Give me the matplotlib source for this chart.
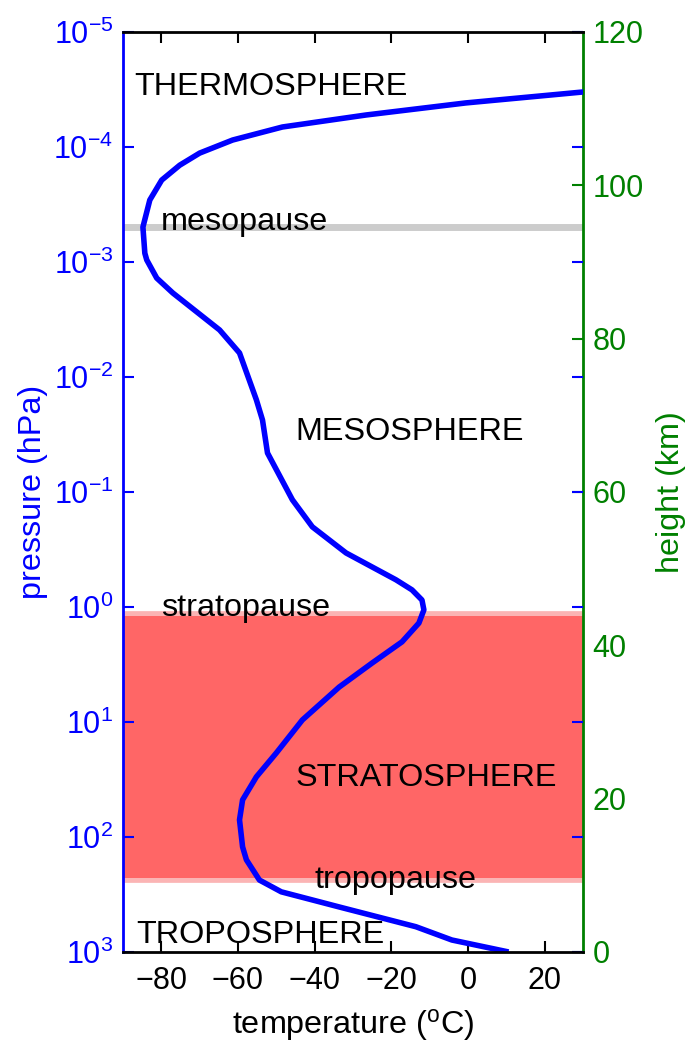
import matplotlib
matplotlib.use("Agg")
import matplotlib.pyplot as plt
from matplotlib.ticker import FixedLocator, NullLocator

plt.rcParams["font.family"] = ["Liberation Sans", "DejaVu Sans"]
plt.rcParams["mathtext.fontset"] = "custom"
plt.rcParams["mathtext.rm"] = "Liberation Sans"
plt.rcParams["mathtext.it"] = "Liberation Sans:italic"
plt.rcParams["mathtext.bf"] = "Liberation Sans:bold"

# temperature profile (pressure in hPa, temperature in degC)
pressure = [1000, 787, 603, 406, 300, 237, 158, 122, 71, 47.6, 30, 18.6, 9.6,
            4.97, 3.07, 2.01, 1.38, 1.06, 0.87, 0.71, 0.58, 0.339, 0.201, 0.117,
            0.0458, 0.0237, 0.0158, 0.00618, 0.0039, 0.00186, 0.00138, 0.00096,
            0.000839, 0.000497, 0.000289, 0.000194, 0.000144, 0.000113, 8.7e-5,
            6.7e-5, 5.27e-5, 4.14e-5, 3.3e-5]
temperature = [10.6, -4.2, -13.6, -33.6, -48.7, -54.4, -57.8, -58.8, -59.6, -58.8,
               -55.2, -50.0, -43.2, -33.6, -25.0, -17.2, -12.8, -11.5, -12.0,
               -14.6, -18.8, -31.8, -40.6, -45.8, -52.3, -53.6, -55.2, -59.6,
               -64.8, -77.0, -81.2, -83.8, -84.3, -84.8, -83.0, -79.9, -75.2,
               -70.0, -61.4, -48.4, -26.6, -0.6, 31.0]

# layer boundaries (km)
tropopause_km = 9.6
stratopause_km = 43.8
mesopause_km = 94.6

# layer labels: (text, temperature, height km)
labels = ["THERMOSPHERE", "mesopause", "MESOSPHERE", "stratopause",
          "STRATOSPHERE", "tropopause", "TROPOSPHERE"]
label_t = [-87, -80, -45, -80, -45, -40, -86.5]
label_h = [112.8, 95.2, 67.8, 44.9, 22.7, 9.4, 2.2]

temp_ticks = [-80, -60, -40, -20, 0, 20]
pres_ticks = [1e3, 1e2, 1e1, 1e0, 1e-1, 1e-2, 1e-3, 1e-4, 1e-5]
height_ticks = [0, 20, 40, 60, 80, 100, 120]

BLUE = "#0000ff"
GREEN = "#008000"
FS = 22        # tick labels
FS_TEXT = 23.3  # labels inside the axes and axis titles

fig = plt.figure(figsize=(6.89, 10.42), dpi=100)
ax = fig.add_axes([0.1785, 0.0864, 0.6676, 0.8829])
axh = ax.twinx()

# height axis sits underneath so the curve is drawn over the shading
ax.set_zorder(2)
axh.set_zorder(1)
ax.patch.set_visible(False)

axh.axhline(tropopause_km, color="#fbb4b4", lw=7, zorder=1)
axh.axhline(stratopause_km, color="#fbb4b4", lw=7, zorder=1)
axh.axhspan(tropopause_km, stratopause_km, color="#ff6666", lw=0, zorder=2)
axh.axhline(mesopause_km, color="#cccccc", lw=5, zorder=2)
for txt, t, h in zip(labels, label_t, label_h):
    axh.text(t, h, txt, fontsize=FS_TEXT, ha="left", va="center", zorder=5)

axh.set_ylim(0, 120)
axh.yaxis.set_major_locator(FixedLocator(height_ticks))
axh.tick_params(axis="y", which="both", direction="in", length=8, width=1.5,
                right=True, left=False, color=GREEN, labelcolor=GREEN,
                labelsize=FS, pad=7)
axh.set_ylabel("height (km)", color=GREEN, fontsize=FS_TEXT, labelpad=9)
for side in ["left", "top", "bottom"]:
    axh.spines[side].set_visible(False)
axh.spines["right"].set_color(GREEN)
axh.spines["right"].set_linewidth(2)

ax.plot(temperature, pressure, color=BLUE, lw=4, solid_capstyle="butt",
        solid_joinstyle="round")
ax.set_yscale("log")
ax.set_ylim(1e3, 1e-5)
ax.set_xlim(-90, 30)
ax.yaxis.set_major_locator(FixedLocator(pres_ticks))
ax.yaxis.set_minor_locator(NullLocator())
ax.xaxis.set_major_locator(FixedLocator(temp_ticks))
ax.tick_params(axis="y", which="both", direction="in", length=8, width=1.5,
               left=True, right=True, color=BLUE, labelcolor=BLUE,
               labelsize=FS, pad=7)
ax.tick_params(axis="x", direction="in", length=8, width=1.5, top=True,
               bottom=True, labelsize=FS, pad=10)
ax.set_ylabel("pressure (hPa)", color=BLUE, fontsize=FS_TEXT, labelpad=4)
ax.set_xlabel("temperature ($^{\\mathrm{o}}$C)", fontsize=FS_TEXT, labelpad=8)
ax.spines["right"].set_visible(False)
ax.spines["left"].set_color(BLUE)
for side in ["left", "top", "bottom"]:
    ax.spines[side].set_linewidth(2)

fig.savefig("out.png", dpi=100)
